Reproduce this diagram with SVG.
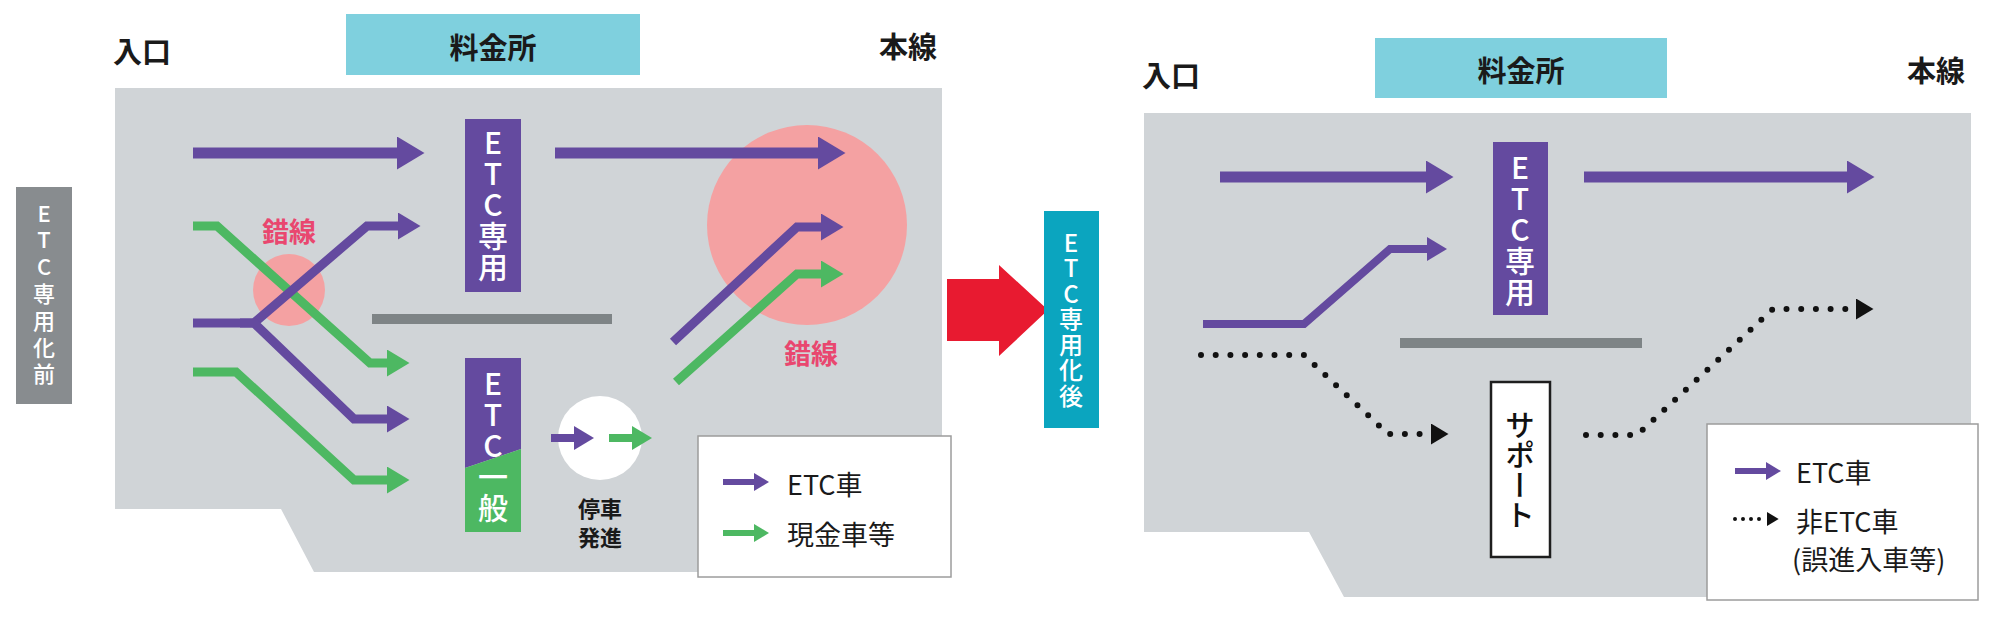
<svg xmlns="http://www.w3.org/2000/svg" width="2000" height="620" viewBox="0 0 2000 620">
<style>
text{font-family:"Noto Sans CJK JP","Noto Sans",sans-serif;dominant-baseline:central}
.hd{font-size:29px;font-weight:700;fill:#1a1a1a}
.vt{writing-mode:vertical-rl;text-orientation:upright;dominant-baseline:auto;text-anchor:middle}
.bx{font-size:30px;font-weight:500;fill:#fff;letter-spacing:1px}
.lb{font-weight:500;fill:#fff}
.cr{font-size:27px;font-weight:700;fill:#e9476f;text-anchor:middle}
.lg{font-size:27px;font-weight:400;fill:#1a1a1a}
.bg{fill:#d0d4d7}
.pink{fill:#f4a1a2}
.bar{fill:#7e8486}
.legend{fill:#fff;stroke:#9c9c9c;stroke-width:1.5}
.ln{fill:none;stroke-linejoin:miter}
.p{stroke:#644a9f}
.g{stroke:#4db862}
.dot{fill:none;stroke:#111;stroke-linecap:round}
</style>
<defs>
<marker id="mP" viewBox="0 0 10 12" refX="0" refY="6" markerWidth="2.5" markerHeight="3" orient="auto" markerUnits="strokeWidth"><path d="M0,0 L10,6 L0,12 z" fill="#644a9f"/></marker>
<marker id="mG" viewBox="0 0 10 12" refX="0" refY="6" markerWidth="2.5" markerHeight="3" orient="auto" markerUnits="strokeWidth"><path d="M0,0 L10,6 L0,12 z" fill="#4db862"/></marker>
<marker id="mK" viewBox="0 0 10 12" refX="0" refY="6" markerWidth="3" markerHeight="3.5" orient="auto" markerUnits="strokeWidth"><path d="M0,0 L10,6 L0,12 z" fill="#111"/></marker>
</defs>
<rect width="2000" height="620" fill="#fff"/>

<!-- LEFT PANEL (before) -->
<g id="area-before"><polygon class="bg" points="115,88 942,88 942,572 314,572 281,509 115,509"/></g>
<g id="label-before"><rect x="16" y="187" width="56" height="217" fill="#888c8f"/>
<text class="vt lb" x="44" y="296" style="font-size:22px;letter-spacing:4.8px">ETC専用化前</text></g>
<g id="entrance-before"><text class="hd" x="113" y="50">入口</text></g>
<g id="toll-before"><rect x="346" y="14" width="294" height="61" fill="#7fd0de"/><text class="hd" x="493" y="46" text-anchor="middle">料金所</text></g>
<g id="main-before"><text class="hd" x="879" y="45">本線</text></g>
<g id="weave-left"><circle class="pink" cx="289" cy="290" r="36"/><text class="cr" x="289" y="230">錯線</text></g>
<g id="weave-right"><circle class="pink" cx="807" cy="225" r="100"/><text class="cr" x="811" y="352">錯線</text></g>
<g id="island-before"><rect class="bar" x="372" y="314" width="240" height="10"/></g>
<g id="lane-etc-before"><rect x="465" y="119" width="56" height="173" fill="#644a9f"/>
<text class="vt bx" x="493" y="205">ETC専用</text></g>
<g id="lane-mixed"><polygon points="465,358 521,358 521,449 465,468" fill="#644a9f"/><polygon points="465,468 521,449 521,532 465,532" fill="#4db862"/>
<text class="vt bx" x="493" y="446">ETC一般</text></g>
<g id="stop-go"><circle cx="600" cy="438" r="42" fill="#fff"/>
<text x="600" y="507" text-anchor="middle" style="font-size:22px;font-weight:700;fill:#1a1a1a">停車</text>
<text x="600" y="536" text-anchor="middle" style="font-size:22px;font-weight:700;fill:#1a1a1a">発進</text></g>

<!-- RED ARROW -->
<g id="transition"><polygon points="947,279 999,279 999,265 1048,310 999,356 999,341 947,341" fill="#e81a30"/></g>
<g id="label-after"><rect x="1044" y="211" width="55" height="217" fill="#0ba5bf"/>
<text class="vt lb" x="1071" y="320" style="font-size:24px;letter-spacing:1.5px">ETC専用化後</text></g>

<!-- RIGHT PANEL (after) -->
<g id="area-after"><polygon class="bg" points="1144,113 1971,113 1971,597 1344,597 1309,532 1144,532"/></g>
<g id="entrance-after"><text class="hd" x="1142" y="74">入口</text></g>
<g id="toll-after"><rect x="1375" y="38" width="292" height="60" fill="#7fd0de"/><text class="hd" x="1521" y="69" text-anchor="middle">料金所</text></g>
<g id="main-after"><text class="hd" x="1907" y="69">本線</text></g>
<g id="island-after"><rect class="bar" x="1400" y="338" width="242" height="10"/></g>
<g id="lane-etc-after"><rect x="1493" y="142" width="55" height="173" fill="#644a9f"/>
<text class="vt bx" x="1520" y="230">ETC専用</text></g>
<g id="support"><rect x="1491" y="382" width="59" height="175" fill="#fff" stroke="#1e1e1e" stroke-width="2.5"/>
<text class="vt" x="1520" y="470" style="font-size:30px;font-weight:500;fill:#111">サポート</text></g>

<!-- CONNECTORS -->
<g id="connectors">
<path class="ln p" stroke-width="11" d="M193,153 L397,153" marker-end="url(#mP)"/>
<path class="ln p" stroke-width="11" d="M555,153 L818,153" marker-end="url(#mP)"/>
<path class="ln g" stroke-width="9" d="M193,226 L217,226 L370,363 L387,363" marker-end="url(#mG)"/>
<path class="ln g" stroke-width="9" d="M193,372 L236,372 L354,480 L387,480" marker-end="url(#mG)"/>
<path class="ln p" stroke-width="9" d="M193,323 L254,323 L367,226 L398,226" marker-end="url(#mP)"/>
<path class="ln p" stroke-width="9" d="M240,323 L254,323 L354,419 L387,419" marker-end="url(#mP)"/>
<path class="ln p" stroke-width="9" d="M673,342 L797,227 L821,227" marker-end="url(#mP)"/>
<path class="ln g" stroke-width="9" d="M676,382 L797,274 L821,274" marker-end="url(#mG)"/>
<path class="ln p" stroke-width="8" d="M551,438 L574,438" marker-end="url(#mP)"/>
<path class="ln g" stroke-width="8" d="M609,438 L632,438" marker-end="url(#mG)"/>
<path class="ln p" stroke-width="11" d="M1220,177 L1426,177" marker-end="url(#mP)"/>
<path class="ln p" stroke-width="11" d="M1584,177 L1847,177" marker-end="url(#mP)"/>
<path class="ln p" stroke-width="8" d="M1203,324 L1304,324 L1390,249 L1427,249" marker-end="url(#mP)"/>
<path class="dot" stroke-width="6" stroke-dasharray="0 14.7" d="M1201,355 L1304,355 L1388,434 L1431,434" marker-end="url(#mK)"/>
<path class="dot" stroke-width="6" stroke-dasharray="0 14.7" d="M1586,435 L1637,435 L1773,309 L1856,309" marker-end="url(#mK)"/>
</g>

<!-- LEGENDS -->
<g id="legend-before"><rect class="legend" x="698" y="436" width="253" height="141"/>
<path class="ln p" stroke-width="6" d="M723,482 L754,482" marker-end="url(#mP)"/>
<text class="lg" x="787" y="483">ETC車</text>
<path class="ln g" stroke-width="6" d="M723,533 L754,533" marker-end="url(#mG)"/>
<text class="lg" x="787" y="533">現金車等</text></g>
<g id="legend-after"><rect class="legend" x="1707" y="424" width="271" height="176"/>
<path class="ln p" stroke-width="6" d="M1735,471 L1766,471" marker-end="url(#mP)"/>
<text class="lg" x="1796" y="471">ETC車</text>
<path class="dot" stroke-width="4" stroke-dasharray="0 8" d="M1735,519 L1767,519" marker-end="url(#mK)"/>
<text class="lg" x="1796" y="520">非ETC車</text>
<text class="lg" x="1792" y="558">(誤進入車等)</text></g>
</svg>
